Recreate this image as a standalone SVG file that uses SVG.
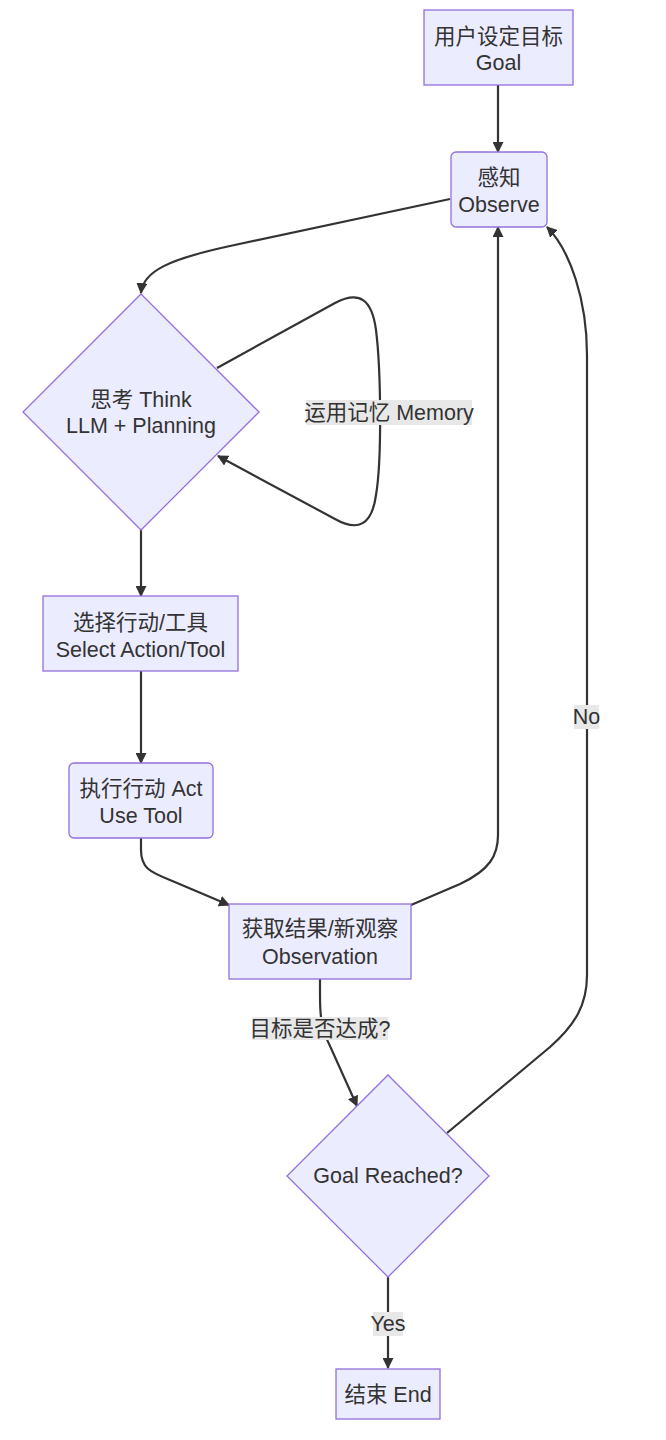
<svg xmlns="http://www.w3.org/2000/svg" width="666" height="1440" viewBox="0 0 666 1440">
<style>
  .node rect, .node polygon { fill: #ECECFF; stroke: #9370DB; stroke-width: 1.3; }
  .node text, .elabel text { font-family: "Liberation Sans", "Noto Sans CJK SC", sans-serif; font-size: 21.5px; fill: #333333; text-anchor: middle; dominant-baseline: central; }
  .edges path { fill: none; stroke: #333333; stroke-width: 2.2; marker-end: url(#arrow); }
  .elabel rect { fill: #e8e8e8; stroke: none; }
</style>
<defs>
  <marker id="arrow" viewBox="0 0 10 10" refX="9" refY="5" markerWidth="11" markerHeight="11" markerUnits="userSpaceOnUse" orient="auto">
    <path d="M0,0 L10,5 L0,10 z" fill="#333333"/>
  </marker>
</defs>
<rect x="0" y="0" width="666" height="1440" fill="#ffffff"/>
<g id="connectors" class="edges">
  <path id="e-goal-observe" d="M498,85 L498,152"/>
  <path id="e-observe-think" d="M450,199 L230,246 C170,259 143,271 141,293"/>
  <path id="e-think-think" d="M217,368 L335,303 C360,290 372,300 376,330 C381,370 382,460 376,495 C372,525 358,532 335,519 L218,456"/>
  <path id="e-think-select" d="M141,530 L141,596"/>
  <path id="e-select-act" d="M141,671 L141,763"/>
  <path id="e-act-observation" d="M141,837 L141,850 C141,868 150,872 170,880 L229,905"/>
  <path id="e-observation-observe" d="M411,905 L460,884 C490,870 498,855 498,835 L498,227"/>
  <path id="e-observation-goalreached" d="M320,979 L320,995 C320,1020 322,1030 330,1046 L357,1106"/>
  <path id="e-goalreached-observe" d="M447,1133 L550,1047 C575,1025 587,1005 587,975 L587,355 C587,300 570,250 547,227"/>
  <path id="e-goalreached-end" d="M388,1277 L388,1368"/>
</g>
<g id="edge-labels">
  <g class="elabel" id="l-memory"><rect x="306" y="400" width="166" height="25"/><text x="389" y="412.5">运用记忆 Memory</text></g>
  <g class="elabel" id="l-check"><rect x="252" y="1017" width="136" height="23"/><text x="320" y="1028.5">目标是否达成?</text></g>
  <g class="elabel" id="l-yes"><rect x="373" y="1312" width="30" height="24"/><text x="388" y="1324">Yes</text></g>
  <g class="elabel" id="l-no"><rect x="574" y="705" width="25" height="24"/><text x="586.5" y="717">No</text></g>
</g>
<g id="goal" class="node"><rect x="424" y="10" width="149" height="75"/><text x="498.5" y="37">用户设定目标</text><text x="498.5" y="63">Goal</text></g>
<g id="observe" class="node"><rect x="451" y="152" width="96" height="75" rx="5" ry="5"/><text x="499" y="178">感知</text><text x="499" y="205">Observe</text></g>
<g id="think" class="node"><polygon points="141,294 259,412 141,530 23,412"/><text x="141" y="400">思考 Think</text><text x="141" y="426">LLM + Planning</text></g>
<g id="select" class="node"><rect x="43" y="596" width="195" height="75"/><text x="140.5" y="623">选择行动/工具</text><text x="140.5" y="650">Select Action/Tool</text></g>
<g id="act" class="node"><rect x="69" y="763" width="144" height="75" rx="5" ry="5"/><text x="141" y="789">执行行动 Act</text><text x="141" y="816">Use Tool</text></g>
<g id="observation" class="node"><rect x="229" y="904" width="182" height="75"/><text x="320" y="929">获取结果/新观察</text><text x="320" y="957">Observation</text></g>
<g id="goalreached" class="node"><polygon points="388,1075 489,1176 388,1277 287,1176"/><text x="388" y="1176">Goal Reached?</text></g>
<g id="end" class="node"><rect x="336" y="1369" width="104" height="50"/><text x="388" y="1395">结束 End</text></g>
</svg>
